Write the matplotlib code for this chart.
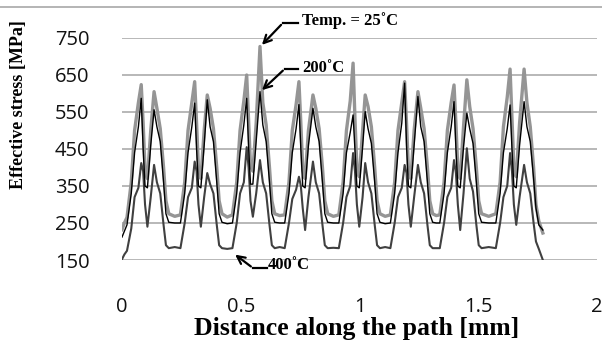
import matplotlib
matplotlib.use("Agg")
import matplotlib.pyplot as plt
from matplotlib.lines import Line2D

# distance along the path [mm] (shared by all three curves)
dist = [0.000, 0.010,
        0.021, 0.039, 0.053, 0.069, 0.081, 0.089, 0.097, 0.107, 0.121, 0.135, 0.147, 0.161, 0.175, 0.185, 0.197,
        0.222,
        0.246, 0.264, 0.278, 0.294, 0.306, 0.314, 0.322, 0.332, 0.346, 0.359, 0.371, 0.385, 0.399, 0.409, 0.421,
        0.443,
        0.465, 0.483, 0.497, 0.513, 0.525, 0.533, 0.541, 0.551, 0.565, 0.581, 0.593, 0.607, 0.621, 0.631, 0.643,
        0.664,
        0.685, 0.703, 0.717, 0.733, 0.745, 0.753, 0.761, 0.771, 0.785, 0.804, 0.816, 0.830, 0.844, 0.854, 0.866,
        0.890,
        0.913, 0.931, 0.945, 0.961, 0.973, 0.981, 0.989, 0.999, 1.013, 1.024, 1.036, 1.050, 1.064, 1.074, 1.086,
        1.108,
        1.130, 1.148, 1.162, 1.178, 1.190, 1.198, 1.206, 1.216, 1.230, 1.246, 1.258, 1.272, 1.286, 1.296, 1.308,
        1.323,
        1.338, 1.356, 1.370, 1.386, 1.398, 1.406, 1.414, 1.424, 1.438, 1.452, 1.464, 1.478, 1.492, 1.502, 1.514,
        1.544,
        1.574, 1.592, 1.606, 1.622, 1.634, 1.642, 1.650, 1.660, 1.674, 1.693, 1.705, 1.719, 1.733, 1.743, 1.755,
        1.772]

# effective stress [MPa]
stress_25 = [232, 250,
             265, 360, 500, 575, 624, 520, 395, 370, 500, 605, 560, 505, 400, 310, 275,
             268,
             272, 360, 500, 575, 632, 520, 395, 370, 500, 596, 560, 505, 400, 310, 275,
             266,
             272, 360, 500, 580, 650, 530, 405, 390, 520, 727, 575, 515, 400, 310, 275,
             270,
             272, 360, 500, 570, 632, 520, 395, 370, 500, 596, 560, 505, 400, 310, 275,
             268,
             272, 360, 500, 580, 682, 530, 400, 375, 500, 596, 565, 510, 400, 310, 275,
             268,
             272, 360, 500, 575, 632, 520, 395, 370, 500, 605, 560, 505, 400, 310, 275,
             270,
             272, 360, 500, 575, 623, 520, 395, 370, 510, 637, 565, 505, 400, 310, 275,
             268,
             275, 360, 510, 590, 666, 530, 400, 375, 520, 666, 575, 510, 400, 300, 255,
             223]

stress_200 = [212, 228,
              245, 330, 440, 510, 587, 450, 350, 345, 460, 556, 510, 470, 360, 275, 252,
              250,
              250, 330, 440, 510, 574, 450, 350, 345, 460, 583, 510, 470, 360, 275, 252,
              248,
              250, 330, 440, 515, 587, 455, 355, 355, 470, 605, 515, 470, 360, 275, 252,
              250,
              250, 330, 440, 505, 570, 450, 350, 345, 460, 560, 510, 470, 360, 275, 252,
              250,
              250, 330, 440, 495, 542, 445, 350, 345, 455, 551, 505, 465, 360, 275, 252,
              248,
              250, 330, 440, 520, 628, 460, 350, 345, 460, 592, 510, 470, 360, 275, 252,
              250,
              250, 330, 440, 510, 578, 450, 350, 345, 455, 547, 505, 465, 360, 275, 252,
              250,
              250, 330, 440, 505, 569, 450, 350, 345, 460, 578, 510, 470, 370, 290, 245,
              231]

stress_400 = [152, 165,
              175, 235, 320, 345, 412, 390, 300, 240, 320, 407, 360, 330, 245, 190, 182,
              185,
              182, 250, 320, 345, 416, 390, 300, 240, 320, 385, 355, 330, 245, 190, 182,
              180,
              182, 250, 330, 360, 455, 400, 310, 267, 330, 420, 360, 330, 245, 190, 182,
              185,
              182, 250, 315, 340, 375, 350, 290, 231, 320, 416, 360, 330, 245, 190, 182,
              183,
              182, 250, 320, 350, 439, 390, 300, 240, 320, 412, 360, 330, 245, 190, 182,
              185,
              182, 250, 320, 345, 407, 385, 300, 240, 320, 407, 360, 330, 245, 190, 182,
              182,
              182, 250, 320, 345, 420, 385, 300, 231, 330, 452, 370, 335, 245, 190, 182,
              185,
              182, 250, 320, 350, 439, 390, 300, 245, 320, 407, 360, 330, 250, 200, 180,
              150]

x_ticks = [0, 0.5, 1, 1.5, 2]
x_tick_labels = ["0", "0.5", "1", "1.5", "2"]
y_ticks = [150, 250, 350, 450, 550, 650, 750]

tick_font = "Open Sans"
serif = "Liberation Serif"

fig = plt.figure(figsize=(6.02, 3.49), dpi=100)
ax = fig.add_axes([122 / 602, 1 - 260 / 349, 475 / 602, 222 / 349])

ax.plot(dist, stress_25, color="#959595", lw=2.4, zorder=3)
ax.plot(dist, stress_400, color="#404040", lw=1.5, zorder=4)
ax.plot(dist, stress_200, color="black", lw=1.0, zorder=5)

ax.set_xlim(0, 2)
ax.set_ylim(150, 750)
ax.set_xticks(x_ticks)
ax.set_xticklabels(x_tick_labels)
ax.set_yticks(y_ticks)
ax.tick_params(length=0, labelsize=14.5, labelcolor="#111111")
ax.tick_params(axis="y", pad=23.5)
ax.tick_params(axis="x", pad=27)
for lab in ax.get_xticklabels() + ax.get_yticklabels():
    lab.set_family(tick_font)
ax.grid(axis="y", color="#ababab", lw=1.2)
ax.set_axisbelow(True)
for s in ax.spines.values():
    s.set_visible(False)

fig.text(357 / 602, 1 - 329 / 349, "Distance along the path [mm]", family=serif, fontweight="bold",
         fontsize=18.5, ha="center", va="center")
fig.text(19 / 602, 1 - 105 / 349, "Effective stress [MPa]", family=serif, fontweight="bold",
         fontsize=13, rotation=90, ha="center", va="center")

# labels with elbow arrows
arrow = dict(arrowstyle="->", color="black", lw=1.6, mutation_scale=14)
notes = [
    ("Temp. = 25˚C", (0.581, 726), (0.678, 791), (0.741, 791), (0.758, 797)),
    ("200˚C", (0.581, 604), (0.686, 667), (0.741, 667), (0.758, 670)),
    ("400˚C", (0.467, 169), (0.552, 128), (0.611, 128), (0.615, 136)),
]
for text, target, corner, start, pos in notes:
    ax.plot([corner[0], start[0]], [corner[1], start[1]], color="black", lw=1.6, clip_on=False)
    ax.annotate("", xy=target, xytext=corner, arrowprops=arrow, annotation_clip=False)
    ax.text(pos[0], pos[1], text, family=serif, fontweight="bold", fontsize=12,
            ha="left", va="center", clip_on=False)

fig.add_artist(Line2D([0, 1], [1 - 7 / 349, 1 - 7 / 349], color="#a8a8a8", lw=1.2))

fig.savefig("out.png", dpi=100)
